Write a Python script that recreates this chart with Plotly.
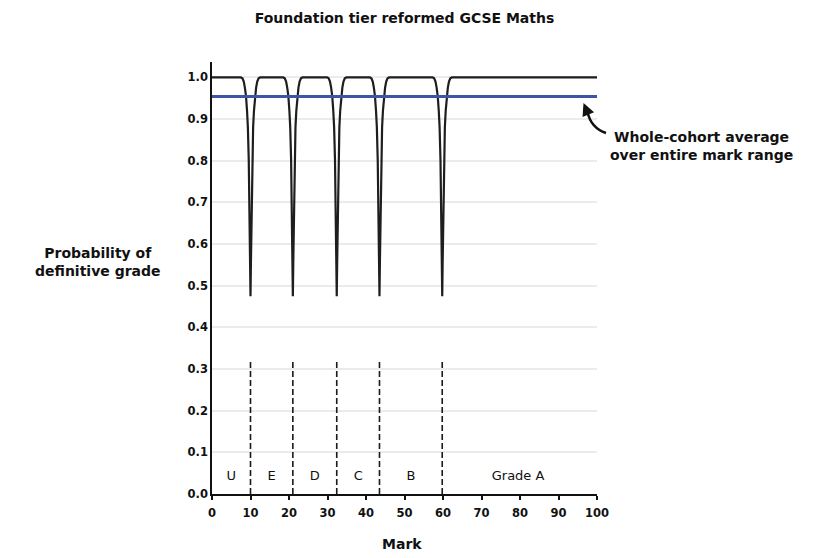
import plotly.graph_objects as go

# ---- data ----
boundaries = [10, 21, 32.4, 43.5, 59.8]          # grade boundary marks
dip_offsets = [0, 0.1, 0.2, 0.3, 0.45, 0.68, 0.9, 1.17, 1.45, 1.75, 2.1, 2.5]
dip_probs = [0.475, 0.55, 0.62, 0.72, 0.80, 0.88, 0.92, 0.955, 0.975, 0.99, 0.998, 1.0]
cohort_avg = 0.954
dash_top = 0.32
grade_labels = ["U", "E", "D", "C", "B", "Grade A"]
grade_label_x = [5, 15.5, 26.7, 38, 51.7, 79.5]
grade_label_y = 0.041
x_ticks = [0, 10, 20, 30, 40, 50, 60, 70, 80, 90, 100]
y_ticks = [0.0, 0.1, 0.2, 0.3, 0.4, 0.5, 0.6, 0.7, 0.8, 0.9, 1.0]

FONT = "DejaVu Sans"

# page body has an 8px margin: place the plot so it lands where the reference has it
OFF = 8
L, T, PW, PH = 212 - OFF, 62 - OFF, 385, 432
W, H = 830 - OFF, 558 - OFF

# build the probability curve from the dip profile at each boundary
cx, cy = [0], [1.0]
for c in boundaries:
    for o, p in zip(reversed(dip_offsets), reversed(dip_probs)):
        cx.append(c - o); cy.append(p)
    for o, p in zip(dip_offsets[1:], dip_probs[1:]):
        cx.append(c + o); cy.append(p)
cx.append(100); cy.append(1.0)

dx, dy = [], []
for c in boundaries:
    dx += [c, c, None]
    dy += [0, dash_top, None]

fig = go.Figure()
fig.add_trace(go.Scatter(x=dx, y=dy, mode="lines",
                         line=dict(color="#1a1a1a", width=1.6, dash="6px,3px"),
                         hoverinfo="skip", showlegend=False))
fig.add_trace(go.Scatter(x=cx, y=cy, mode="lines",
                         line=dict(color="#1e1e1e", width=2.2),
                         showlegend=False, cliponaxis=False))
fig.add_trace(go.Scatter(x=[0, 100], y=[cohort_avg, cohort_avg], mode="lines",
                         line=dict(color="#3c55a5", width=3), showlegend=False))
fig.add_trace(go.Scatter(x=grade_label_x, y=[grade_label_y] * len(grade_labels),
                         mode="text", text=grade_labels,
                         textfont=dict(family=FONT, size=13, color="#111"),
                         showlegend=False, hoverinfo="skip"))

fig.update_layout(
    width=W, height=H,
    margin=dict(l=L, r=W - L - PW, t=T, b=H - T - PH, autoexpand=False),
    plot_bgcolor="white", paper_bgcolor="white",
    font=dict(family=FONT, color="#111"),
    title=dict(text="<b>Foundation tier reformed GCSE Maths</b>",
               x=(L + PW / 2) / W, xanchor="center", y=1 - (18 - OFF) / H, yanchor="middle",
               font=dict(family=FONT, size=14, color="#111")),
    xaxis=dict(range=[0, 100], tickvals=x_ticks, automargin=False,
               ticktext=[f"<b>{v}</b>" for v in x_ticks],
               showgrid=False, zeroline=False, showline=True, linecolor="#111", linewidth=1.5,
               ticks="outside", ticklen=4, tickcolor="#111", tickwidth=1.5,
               ticklabelstandoff=3,
               tickfont=dict(family=FONT, size=11.5, color="#111")),
    yaxis=dict(range=[0, 1.037], tickvals=y_ticks, automargin=False,
               ticktext=[f"<b>{v:.1f}</b>" for v in y_ticks],
               showgrid=True, gridcolor="#ebebeb", gridwidth=1.5, zeroline=False,
               showline=True, linecolor="#111", linewidth=1.5, ticks="",
               tickfont=dict(family=FONT, size=11.5, color="#111")),
    showlegend=False,
)

def px(p):
    return (p - 212) / PW

def py(p):
    return (494 - p) / PH

# x-axis title
fig.add_annotation(xref="paper", yref="paper", x=px(402), y=py(544),
                   text="<b>Mark</b>", showarrow=False,
                   xanchor="center", yanchor="middle",
                   font=dict(family=FONT, size=14, color="#111"))

# y-axis title as horizontal text
fig.add_annotation(xref="paper", yref="paper", x=px(98), y=py(262),
                   text="<b>Probability of<br>definitive grade</b>", showarrow=False,
                   xanchor="center", yanchor="middle", align="center",
                   font=dict(family=FONT, size=14, color="#111"))

# call-out text
fig.add_annotation(xref="paper", yref="paper", x=px(701), y=py(146),
                   text="<b>Whole-cohort average<br>over entire mark range</b>", showarrow=False,
                   xanchor="center", yanchor="middle", align="center",
                   font=dict(family=FONT, size=14, color="#111"))

# curved arrow body
fig.add_shape(type="path", xref="paper", yref="paper",
              path=f"M {px(606)},{py(133)} Q {px(591)},{py(128)} {px(587.5)},{py(112)}",
              line=dict(color="#111", width=2.5))
# arrow head
fig.add_annotation(xref="paper", yref="paper", x=px(583.5), y=py(103),
                   ax=5, ay=12, text="", showarrow=True, arrowhead=2,
                   arrowsize=1, arrowwidth=2.5, arrowcolor="#111")

fig.write_html("out.html")
